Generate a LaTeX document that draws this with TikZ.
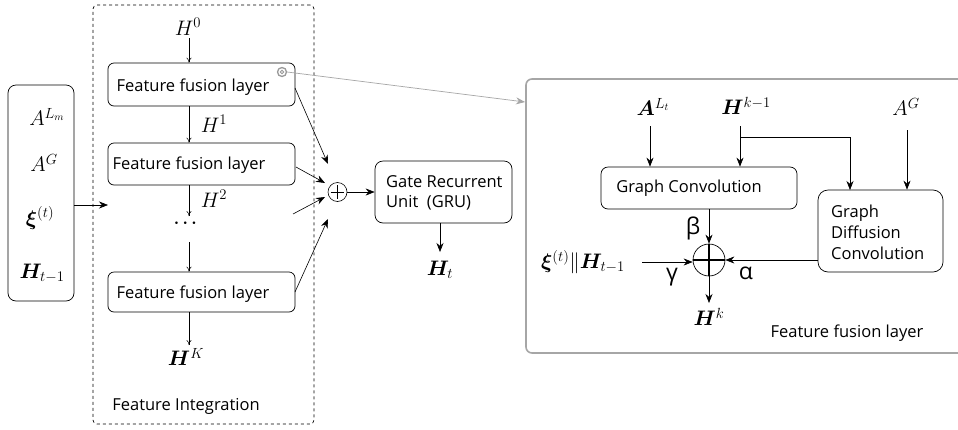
\RequirePackage{fix-cm}
\documentclass[tikz,border=0pt]{standalone}
\usepackage{amsmath}
\usepackage{bm}
\usepackage[no-math]{fontspec}
\setmainfont{Open Sans}
\usetikzlibrary{arrows.meta,calc}
\tikzset{
  box/.style={draw, rounded corners=6pt, line width=0.7pt},
  lbl/.style={font=\fontsize{16.5}{19}\selectfont, inner sep=0pt},
  mth/.style={font=\fontsize{21}{23}\selectfont, inner sep=0pt},
  grk/.style={font=\fontsize{23}{25}\selectfont, inner sep=0pt},
  sarr/.style={-{To[length=5pt,width=5pt]}, line width=0.5pt},
  farr/.style={-{Stealth[length=9pt,width=7pt]}, line width=0.6pt},
}
\begin{document}
\begin{tikzpicture}[x=1pt,y=-1pt]
\clip (0,0) rectangle (958,429);
\fill[white] (0,0) rectangle (958,429);

% left input box
\node[box, minimum width=66pt, minimum height=216pt, rounded corners=8pt] (inp) at (41,193) {};
\node[mth] (alm) at (47,117) {$A^{L_m}$};
\node[mth] (ag1) at (44,163) {$A^{G}$};
\node[mth] (xi1) at (40,218) {$\boldsymbol{\xi}^{(t)}$};
\node[mth] (hm1) at (42,273) {$\bm{H}_{t-1}$};

% dashed integration box
\node[draw, dashed, rounded corners=4pt, line width=0.7pt, minimum width=221pt, minimum height=419pt] (integ) at (203.5,214.5) {};
\coordinate (inl) at (108,205);
\draw[farr] (inp.east |- inl) -- (inl);

\node[mth] (h0) at (188,27) {$H^{0}$};
\node[box, minimum width=187pt, minimum height=43pt] (f1) at (201.5,84.5) {};
\node[lbl] at (193,87) {Feature fusion layer};
\node[box, minimum width=187pt, minimum height=42pt] (f2) at (201.5,164) {};
\node[lbl] at (189,165) {Feature fusion layer};
\node[box, minimum width=187pt, minimum height=40pt] (f3) at (201.5,292) {};
\node[lbl] at (193,294) {Feature fusion layer};
\node[font=\fontsize{17}{17}\selectfont, inner sep=0pt] (dots) at (187,223) {$\boldsymbol{\cdots}$};
\coordinate (d1) at (189,216);
\coordinate (d2) at (189,242);

\draw[sarr] (189,38) -- (f1.north -| 189,0);
\draw[sarr] (f1.south -| 189,0) -- (f2.north -| 189,0);
\draw[sarr] (f2.south -| 189,0) -- (d1);
\draw[sarr] (d2) -- (f3.north -| 189,0);
\coordinate (hkp) at (189,345);
\draw[sarr] (f3.south -| 189,0) -- (hkp);
\node[mth] (h1) at (214,124) {$H^{1}$};
\node[mth] (h2) at (214,199) {$H^{2}$};
\node[mth] (hK) at (186,357) {$\bm{H}^{K}$};
\node[lbl] (fi) at (186,406) {Feature Integration};

% icon
\node[circle, draw=gray!80, line width=1.3pt, minimum size=9pt, inner sep=0pt] (icon) at (282,72) {};
\node[circle, draw=gray!80, line width=0.8pt, minimum size=3.5pt, inner sep=0pt] at (282,72) {};

% oplus
\node[circle, draw, line width=0.6pt, minimum size=19pt, inner sep=0pt] (op) at (337.5,192) {};
\draw[line width=1pt] ($(op.north)+(0,3)$) -- ($(op.south)+(0,-3)$);
\draw[line width=1pt] ($(op.west)+(3,0)$) -- ($(op.east)+(-3,0)$);
\coordinate (a1) at (328,164);
\coordinate (a2) at (325,183);
\coordinate (a3) at (325,197);
\coordinate (a4) at (328,219);
\coordinate (s3) at (293,214);
\draw[farr] (295,88) -- (a1);
\draw[farr] (296,167) -- (a2);
\draw[farr] (s3) -- (a3);
\draw[farr] (295,292) -- (a4);

% GRU
\node[box, minimum width=137pt, minimum height=62pt, rounded corners=8pt] (gru) at (443.5,192) {};
\node[lbl, align=left, anchor=west] at (386,193) {Gate Recurrent\\[1pt]Unit\ \ (GRU)};
\draw[farr] (op.east) -- (gru.west);
\coordinate (htp) at (440,252);
\draw[farr] (gru.south -| htp) -- (htp);
\node[mth] (ht) at (440,270) {$\bm{H}_{t}$};

% right panel
\draw[gray!70, line width=1.6pt, rounded corners=6pt] (526,79) rectangle (975,353);
\coordinate (pl) at (525,102);
\draw[gray!70, line width=0.7pt, -{Stealth[length=9pt,width=7pt]}] (icon.east) -- (pl);

\node[mth] (alt) at (653,107) {$\bm{A}^{L_t}$};
\node[mth] (hk1) at (746,106) {$\bm{H}^{k-1}$};
\node[mth] (ag2) at (906,107) {$A^{G}$};

\node[box, minimum width=196pt, minimum height=42pt, rounded corners=7pt] (gc) at (699,188) {};
\node[lbl] at (689,188) {Graph Convolution};
\node[box, minimum width=125pt, minimum height=82pt, rounded corners=10pt] (gdc) at (880.5,231) {};
\node[lbl, align=left, anchor=west] at (831,232) {Graph\\[2pt]Diffusion\\[2pt]Convolution};

\coordinate (t1) at (650,126);
\coordinate (t2) at (740,126);
\coordinate (br) at (740,137);
\coordinate (t3) at (907,130);
\draw[farr] (t1) -- (t1 |- gc.north);
\draw[farr] (t2) -- (t2 |- gc.north);
\draw[farr] (br) -| (850,190);
\draw[farr] (t3) -- (t3 |- gdc.north);

\node[circle, draw, line width=0.7pt, minimum size=32pt, inner sep=0pt] (op2) at (709,260) {};
\draw[line width=1.2pt] (op2.north) -- (op2.south);
\draw[line width=1.2pt] (op2.west) -- (op2.east);
\draw[farr] (gc.south -| op2) -- (op2.north);
\node[mth] (xih) at (583,262) {$\boldsymbol{\xi}^{(t)}\Vert\bm{H}_{t-1}$};
\coordinate (xs) at (642,262);
\draw[farr] (xs) -- (op2.west |- xs);
\draw[farr] (gdc.west |- op2) -- (op2.east);
\coordinate (hkt) at (709,303);
\draw[farr] (op2.south) -- (hkt);
\node[mth] (hk) at (709,317) {$\bm{H}^{k}$};
\node[grk] (beta) at (693,228) {β};
\node[grk] (gam) at (672,277) {γ};
\node[grk] (alp) at (746,273) {α};
\node[lbl] (ffl) at (847,333) {Feature fusion layer};
\end{tikzpicture}
\end{document}
